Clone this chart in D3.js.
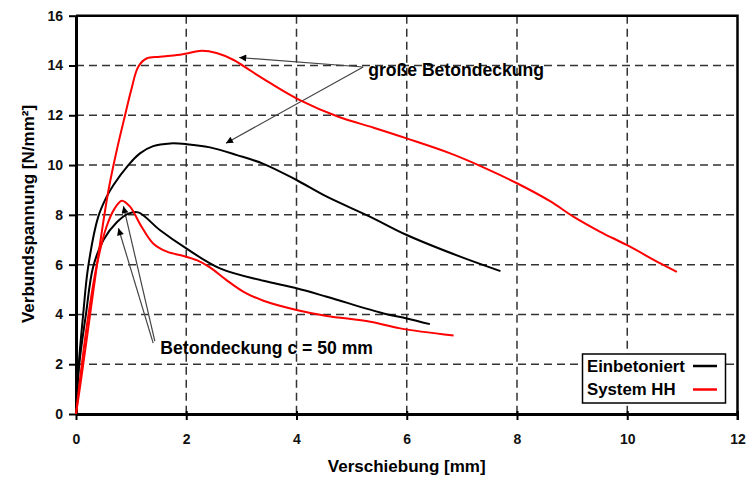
<!DOCTYPE html>
<html>
<head>
<meta charset="utf-8">
<script src="https://cdn.jsdelivr.net/npm/d3@7"></script>
<style>
  body { margin: 0; background: #fff; }
  text { font-family: "Liberation Sans", Arial, sans-serif; font-weight: bold; }
</style>
</head>
<body>
<script>
// data: [Verschiebung mm, Verbundspannung N/mm2]
var grossHH = [[0,0],[0.1,1.5],[0.25,3.9],[0.4,6.3],[0.59,9.0],[0.75,10.7],[0.89,12.0],[1.0,13.0],[1.13,13.95],
  [1.28,14.28],[1.52,14.35],[1.83,14.42],[2.0,14.48],[2.28,14.59],[2.55,14.5],[2.86,14.22],[3.16,13.8],[3.52,13.3],
  [4.07,12.6],[4.76,11.94],[5.4,11.5],[6.0,11.07],[6.79,10.47],[7.4,9.9],[8.0,9.27],[8.6,8.55],[9.03,7.92],
  [9.51,7.32],[9.99,6.79],[10.6,6.05],[10.9,5.71]];
var grossEin = [[0,0],[0.05,2.0],[0.13,4.0],[0.22,5.9],[0.4,7.9],[0.55,8.7],[0.68,9.2],[0.95,10.0],[1.16,10.47],
  [1.4,10.76],[1.71,10.87],[2.01,10.84],[2.43,10.71],[2.92,10.4],[3.4,10.05],[4.0,9.4],[4.55,8.73],[5.34,7.92],
  [6.0,7.19],[6.97,6.32],[7.7,5.74]];
var c50Ein = [[0,0],[0.06,2.0],[0.18,4.0],[0.31,5.9],[0.5,7.0],[0.74,7.7],[0.95,8.05],[1.13,8.1],[1.52,7.39],
  [2.0,6.65],[2.61,5.85],[3.4,5.35],[4.0,5.05],[4.55,4.71],[5.58,4.04],[6.0,3.84],[6.42,3.61]];
var c50HH = [[0,0],[0.1,1.9],[0.22,3.9],[0.37,5.9],[0.55,7.5],[0.7,8.25],[0.83,8.57],[0.98,8.33],[1.19,7.52],
  [1.4,6.85],[1.65,6.52],[1.95,6.35],[2.19,6.18],[2.43,5.89],[2.73,5.38],[3.04,4.91],[3.4,4.55],[4.0,4.18],
  [4.55,3.94],[5.34,3.71],[5.88,3.44],[6.85,3.15]];

var xTicks = [0, 2, 4, 6, 8, 10, 12];
var yTicks = [0, 2, 4, 6, 8, 10, 12, 14, 16];
var legendLabels = ["Einbetoniert", "System HH"];

// annotation anchors (data units)
var grossText = { x: 5.3, y: 13.57, label: "große Betondeckung" };
var grossArrows = [[[5.21, 13.94], [2.96, 14.32]], [[5.21, 13.94], [2.72, 10.88]]];
var c50Text = { x: 1.53, y: 2.43, label: "Betondeckung c = 50 mm" };
var c50Arrows = [[[1.40, 2.85], [0.77, 7.46]], [[1.43, 2.93], [0.86, 8.35]]];

var width = 753, height = 477;
var margin = { top: 15.7, right: 15.5, bottom: 63, left: 76 };

var svg = d3.select("body").append("svg")
  .attr("width", width)
  .attr("height", height);

var x = d3.scaleLinear().domain([0, 12]).range([margin.left, width - margin.right]);
var y = d3.scaleLinear().domain([0, 16]).range([height - margin.bottom, margin.top]);

svg.append("defs").append("marker")
  .attr("id", "arrow")
  .attr("viewBox", "0 0 10 10")
  .attr("refX", 10).attr("refY", 5)
  .attr("markerWidth", 10).attr("markerHeight", 7)
  .attr("markerUnits", "userSpaceOnUse")
  .attr("orient", "auto")
  .append("path")
  .attr("d", "M0,0 L10,5 L0,10 Z")
  .attr("fill", "#000");

// grid
var grid = svg.append("g")
  .attr("stroke", "#333")
  .attr("stroke-width", 1.5)
  .attr("stroke-dasharray", "8,5");
grid.selectAll("line.v")
  .data(xTicks.slice(1, -1))
  .enter().append("line")
  .attr("x1", d => x(d)).attr("x2", d => x(d))
  .attr("y1", y(16)).attr("y2", y(0));
grid.selectAll("line.h")
  .data(yTicks.slice(1, -1))
  .enter().append("line")
  .attr("x1", x(0)).attr("x2", x(12))
  .attr("y1", d => y(d)).attr("y2", d => y(d));

// axes
var xAxis = svg.append("g")
  .attr("transform", "translate(0," + y(0) + ")")
  .call(d3.axisBottom(x).tickValues(xTicks).tickSize(6).tickPadding(14).tickSizeOuter(0));
var yAxis = svg.append("g")
  .attr("transform", "translate(" + x(0) + ",0)")
  .call(d3.axisLeft(y).tickValues(yTicks).tickSize(7).tickPadding(6).tickSizeOuter(0));
[xAxis, yAxis].forEach(function (a) {
  a.select(".domain").attr("stroke", "#000").attr("stroke-width", 3);
  a.selectAll(".tick line").attr("stroke", "#000").attr("stroke-width", 2);
  a.selectAll(".tick text")
    .attr("font-size", 14)
    .attr("font-weight", "bold")
    .attr("font-family", "'Liberation Sans', Arial, sans-serif")
    .attr("fill", "#111");
});
xAxis.selectAll(".tick line").attr("y1", -3);

// top and right frame
svg.append("path")
  .attr("d", "M" + x(0) + "," + y(16) + "H" + x(12) + "V" + y(0))
  .attr("fill", "none")
  .attr("stroke", "#000")
  .attr("stroke-width", 2.5);
svg.append("line")
  .attr("x1", x(12)).attr("x2", x(12))
  .attr("y1", y(0) - 3).attr("y2", y(0) + 6)
  .attr("stroke", "#000").attr("stroke-width", 2);

// axis titles
svg.append("text")
  .attr("x", (x(0) + x(12)) / 2 - 0)
  .attr("y", 472)
  .attr("text-anchor", "middle")
  .attr("font-size", 17)
  .text("Verschiebung [mm]");
svg.append("text")
  .attr("transform", "translate(34," + 214 + ") rotate(-90)")
  .attr("text-anchor", "middle")
  .attr("font-size", 17)
  .text("Verbundspannung [N/mm²]");

// annotations
svg.append("text")
  .attr("x", x(grossText.x)).attr("y", y(grossText.y))
  .attr("font-size", 17.6)
  .text(grossText.label);
svg.append("text")
  .attr("x", x(c50Text.x)).attr("y", y(c50Text.y))
  .attr("font-size", 17.6)
  .text(c50Text.label);

svg.append("g").selectAll("line")
  .data(grossArrows.concat(c50Arrows))
  .enter().append("line")
  .attr("x1", d => x(d[0][0])).attr("y1", d => y(d[0][1]))
  .attr("x2", d => x(d[1][0])).attr("y2", d => y(d[1][1]))
  .attr("stroke", "#444")
  .attr("stroke-width", 1.2)
  .attr("marker-end", "url(#arrow)");

// curves
var line = d3.line()
  .x(d => x(d[0]))
  .y(d => y(d[1]))
  .curve(d3.curveCatmullRom.alpha(0.5));

var series = [
  { data: grossEin, color: "#000" },
  { data: c50Ein, color: "#000" },
  { data: grossHH, color: "#f00" },
  { data: c50HH, color: "#f00" }
];
svg.append("g").selectAll("path")
  .data(series)
  .enter().append("path")
  .attr("d", d => line(d.data))
  .attr("fill", "none")
  .attr("stroke", d => d.color)
  .attr("stroke-width", 2);

// legend
var legend = svg.append("g");
legend.append("rect")
  .attr("x", 582.5).attr("y", 354)
  .attr("width", 143).attr("height", 49)
  .attr("fill", "#fff")
  .attr("stroke", "#000")
  .attr("stroke-width", 1.5);
var legendItems = legend.selectAll("g.item")
  .data(legendLabels)
  .enter().append("g")
  .attr("transform", (d, i) => "translate(0," + (366 + i * 23.5) + ")");
legendItems.append("text")
  .attr("x", 587)
  .attr("y", 5.8)
  .attr("font-size", 16.8)
  .text(d => d);
legendItems.append("line")
  .attr("x1", 693).attr("x2", 717)
  .attr("y1", 0).attr("y2", 0)
  .attr("stroke", (d, i) => i === 0 ? "#000" : "#f00")
  .attr("stroke-width", 2.5);
</script>
</body>
</html>
